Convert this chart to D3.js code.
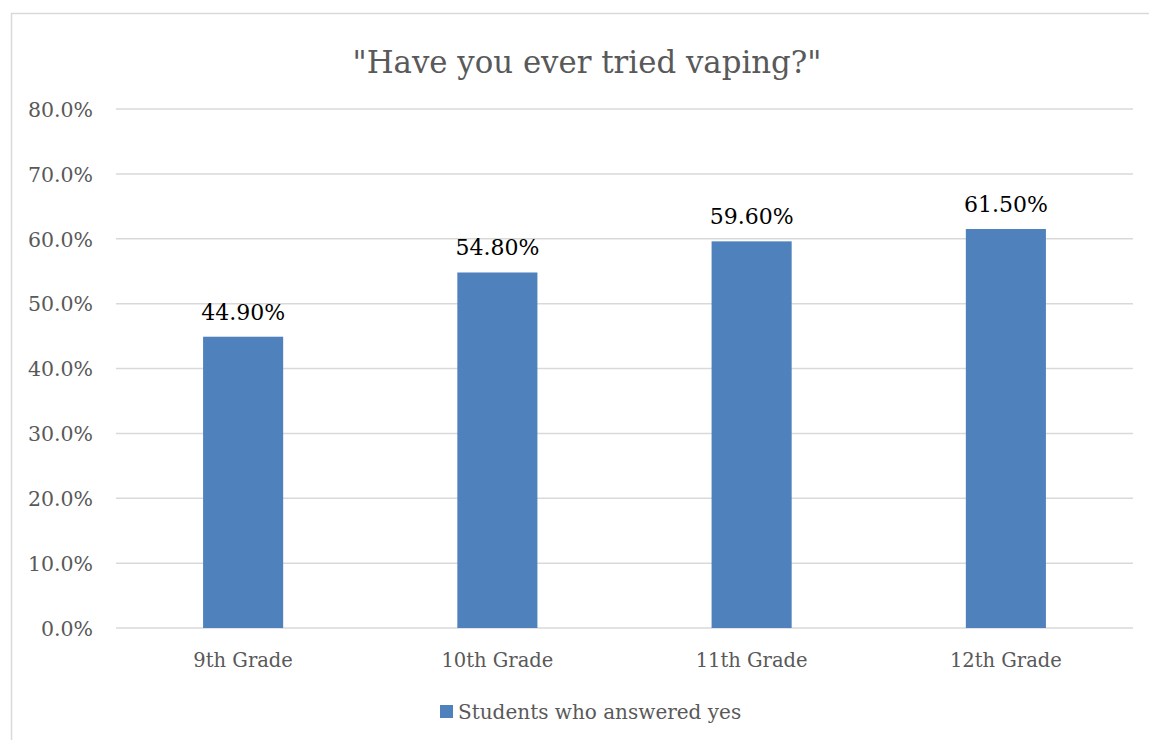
<!DOCTYPE html>
<html>
<head>
<meta charset="utf-8">
<script src="https://cdn.jsdelivr.net/npm/d3@7"></script>
<style>
  body { margin: 0; background: #fff; }
  text { font-family: "DejaVu Serif", serif; }
</style>
</head>
<body>
<svg id="chart" width="1149" height="740"></svg>
<script>
const grades = ["9th Grade", "10th Grade", "11th Grade", "12th Grade"];
const yesValues = [0.449, 0.548, 0.596, 0.615];
const valueLabels = ["44.90%", "54.80%", "59.60%", "61.50%"];
const yTicks = [0, 0.1, 0.2, 0.3, 0.4, 0.5, 0.6, 0.7, 0.8];
const seriesName = "Students who answered yes";

const svg = d3.select("#chart");
const blue = "#4F81BD";
const grey = "#595959";

// chart frame
svg.append("rect")
  .attr("x", 11.5).attr("y", 13.5)
  .attr("width", 1160).attr("height", 760)
  .attr("fill", "#fff")
  .attr("stroke", "#d9d9d9")
  .attr("stroke-width", 1.5);

const plot = { left: 116, right: 1133, top: 109, bottom: 628 };

const x = d3.scaleBand()
  .domain(grades)
  .range([plot.left, plot.right])
  .paddingInner(0.685)
  .paddingOuter(0.3425);

const y = d3.scaleLinear()
  .domain([0, 0.8])
  .range([plot.bottom, plot.top]);

// gridlines
svg.append("g")
  .selectAll("line")
  .data(yTicks)
  .join("line")
  .attr("x1", plot.left).attr("x2", plot.right)
  .attr("y1", d => y(d)).attr("y2", d => y(d))
  .attr("stroke", "#d9d9d9")
  .attr("stroke-width", 1.5);

// y tick labels
svg.append("g")
  .selectAll("text")
  .data(yTicks)
  .join("text")
  .attr("x", 93)
  .attr("y", d => y(d))
  .attr("dy", "0.38em")
  .attr("text-anchor", "end")
  .attr("font-size", 20.5)
  .attr("fill", grey)
  .text(d => d3.format(".1%")(d));

// bars
svg.append("g")
  .selectAll("rect")
  .data(yesValues)
  .join("rect")
  .attr("x", (d, i) => x(grades[i]))
  .attr("width", x.bandwidth())
  .attr("y", d => y(d))
  .attr("height", d => y(0) - y(d))
  .attr("fill", blue);

// value labels
svg.append("g")
  .selectAll("text")
  .data(yesValues)
  .join("text")
  .attr("x", (d, i) => x(grades[i]) + x.bandwidth() / 2)
  .attr("y", d => y(d) - 17)
  .attr("text-anchor", "middle")
  .attr("font-size", 22)
  .attr("fill", "#000")
  .text((d, i) => valueLabels[i]);

// category labels
svg.append("g")
  .selectAll("text")
  .data(grades)
  .join("text")
  .attr("x", d => x(d) + x.bandwidth() / 2)
  .attr("y", 667)
  .attr("text-anchor", "middle")
  .attr("font-size", 19.5)
  .attr("fill", grey)
  .text(d => d);

// title
svg.append("text")
  .attr("x", 587)
  .attr("y", 73)
  .attr("text-anchor", "middle")
  .attr("font-size", 30.8)
  .attr("fill", grey)
  .text('"Have you ever tried vaping?"');

// legend
const legend = svg.append("g");
legend.append("rect")
  .attr("x", 440).attr("y", 705)
  .attr("width", 13).attr("height", 13)
  .attr("fill", blue);
legend.append("text")
  .attr("x", 458).attr("y", 719)
  .attr("font-size", 20)
  .attr("fill", grey)
  .text(seriesName);
</script>
</body>
</html>
